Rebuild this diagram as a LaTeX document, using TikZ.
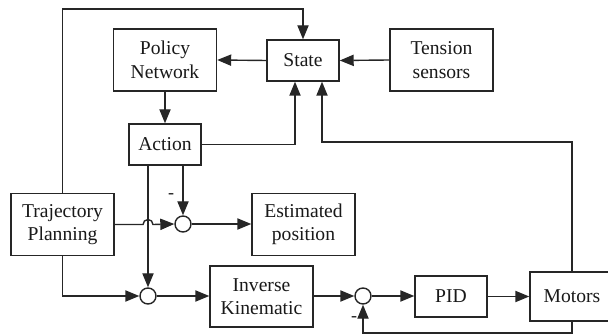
\documentclass[tikz,border=0pt]{standalone}
\usepackage{fontspec}
\setmainfont{Liberation Serif}
\usepackage{tikz}
\usetikzlibrary{arrows.meta,positioning,calc}
\tikzset{>={Triangle[length=7pt,width=5.6pt]}}
\tikzset{block/.style={rectangle,draw,fill=white,align=center,inner sep=0mm,font=\fontsize{9.8}{11.7}\selectfont}}
\tikzset{wideblock/.style={block,minimum width=51.5pt,minimum height=31pt}}
\tikzset{smallblock/.style={block,minimum width=36pt,minimum height=20.5pt}}
\tikzset{sumpoint/.style={circle,draw,fill=white,minimum size=8pt,inner sep=0mm}}
\tikzset{signlabel/.style={font=\fontsize{9}{10}\selectfont,inner sep=0mm}}

\begin{document}
\begin{tikzpicture}[x=0.5pt,y=-0.5pt,line width=0.7pt,draw=black!85,text=black!90]
    \useasboundingbox (0,0) rectangle (608,335);

    \node[wideblock]  (policy)  at (165, 60)    {Policy\\Network};
    \node[smallblock] (state)   at (303, 60.5)  {State};
    \node[wideblock]  (tension) at (441.5, 60)  {Tension\\sensors};
    \node[smallblock] (action)  at (165, 144.5) {Action};
    \node[wideblock]  (traj)    at (62.5, 224.5) {Trajectory\\Planning};
    \node[wideblock]  (est)     at (303.5, 224.5) {Estimated\\position};
    \node[wideblock,minimum height=30.5pt] (inv) at (261.5, 296.5) {Inverse\\Kinematic};
    \node[smallblock] (pid)     at (451, 296.5) {PID};
    \node[block,minimum width=42pt,minimum height=24.5pt] (motors) at (572, 296.5) {Motors};

    \node[sumpoint] (sum1) at (183, 224) {};
    \node[sumpoint] (sum2) at (148, 296) {};
    \node[sumpoint] (sum3) at (363, 296) {};

    \coordinate (topline) at (150, 9);
    \coordinate (fbk)     at (450, 142);
    \coordinate (btm)     at (450, 333);

    \draw[->] (traj.north) |- (topline) -| (state.north);
    \draw[->] (state.west) -- (policy.east);
    \draw[->] (tension.west) -- (state.east);
    \draw[->] (policy.south) -- (action.north);
    \draw[->] (action.east) -| ([xshift=-4pt]state.south);
    \draw[->] (motors.north) |- (fbk) -| ([xshift=9.5pt]state.south);

    \draw[->] (action.south -| sum1) -- (sum1.north);
    \draw[->] (action.south -| sum2) -- (sum2.north);
    \draw[->] (traj.east) -- ([xshift=-2.5pt]traj.east -| sum2)
        arc[start angle=180,end angle=0,radius=2.5pt] -- (sum1.west);
    \draw[->] (sum1.east) -- (sum1 -| est.west);
    \draw[->] (traj.south) |- (sum2.west);
    \draw[->] (sum2.east) -- (sum2 -| inv.west);
    \draw[->] (inv.east |- sum3) -- (sum3.west);
    \draw[->] (sum3.east) -- (sum3 -| pid.west);
    \draw[->] (pid.east) -- (pid -| motors.west);
    \draw[->] (motors.south) |- (btm) -| (sum3.south);

    \node[signlabel] at (171, 196) {-};
    \node[signlabel] at (354, 319) {-};
\end{tikzpicture}
\end{document}
